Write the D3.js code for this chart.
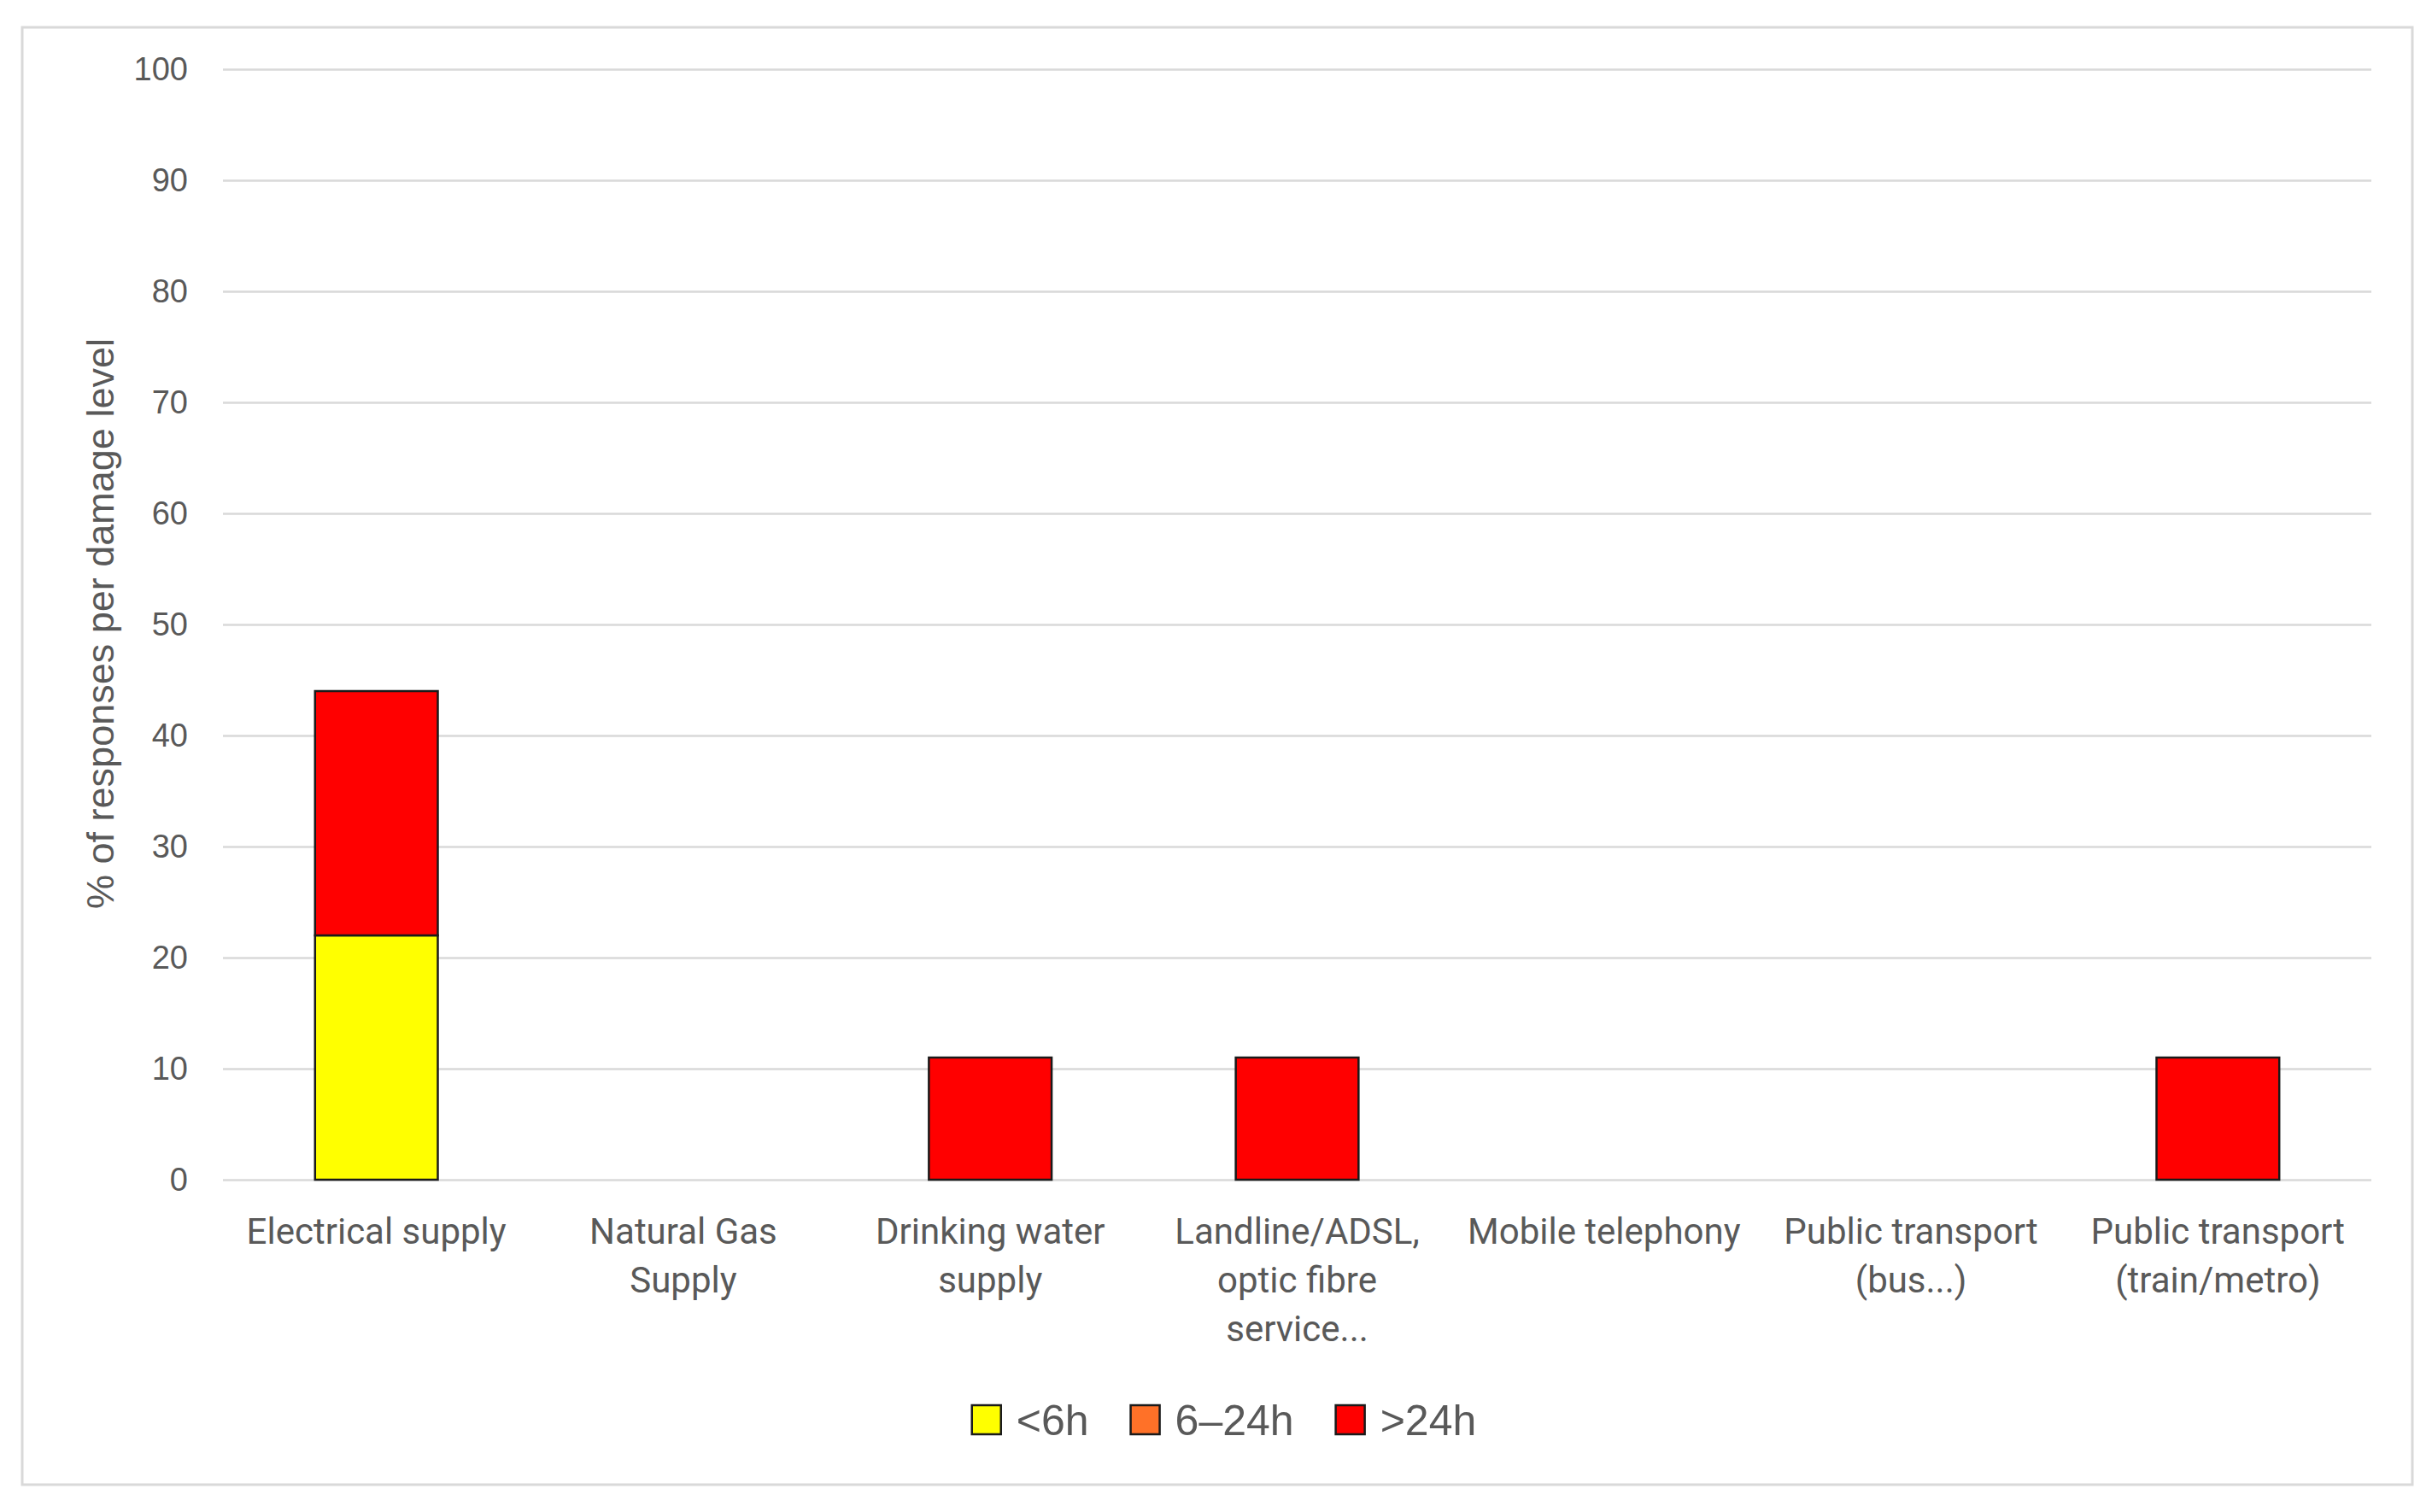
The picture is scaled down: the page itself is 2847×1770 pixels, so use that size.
<!DOCTYPE html>
<html lang="en">
<head>
<meta charset="utf-8">
<title>Service interruption by duration</title>
<script src="https://cdnjs.cloudflare.com/ajax/libs/d3/7.8.5/d3.min.js"></script>
<style>
  body { margin: 0; background: #fff; }
  svg { display: block; }
</style>
</head>
<body>
<div id="chart"></div>
<script>
// chart values
var categories = [
    "Electrical supply",
    "Natural Gas\nSupply",
    "Drinking water\nsupply",
    "Landline/ADSL,\noptic fibre\nservice...",
    "Mobile telephony",
    "Public transport\n(bus...)",
    "Public transport\n(train/metro)"
];
var seriesNames = ["<6h", "6\u201324h", ">24h"];
var seriesColors = ["#ffff00", "#ff7128", "#ff0000"];
var under6h = [22, 0, 0, 0, 0, 0, 0];
var from6to24h = [0, 0, 0, 0, 0, 0, 0];
var over24h = [22, 0, 11, 11, 0, 0, 11];
var yTicks = [0, 10, 20, 30, 40, 50, 60, 70, 80, 90, 100];

var width = 2847, height = 1770;
var margin = {left: 261, right: 71, top: 81, bottom: 389};
var textColor = "#595959";

var rows = categories.map(function(c, i) {
    return {cat: c, "<6h": under6h[i], "6\u201324h": from6to24h[i], ">24h": over24h[i]};
});
var stacked = d3.stack().keys(seriesNames)(rows);

var svg = d3.select("#chart").append("svg")
    .attr("width", width)
    .attr("height", height);

// outer chart border
svg.append("rect")
    .attr("x", 26).attr("y", 32)
    .attr("width", 2798).attr("height", 1706)
    .attr("fill", "#fff")
    .attr("stroke", "#d9d9d9")
    .attr("stroke-width", 3);

var x = d3.scaleBand()
    .domain(categories)
    .range([margin.left, width - margin.right])
    .paddingInner(0.6)
    .paddingOuter(0.3);

var y = d3.scaleLinear()
    .domain([0, 100])
    .range([height - margin.bottom, margin.top]);

// y axis with gridlines
var yAxis = svg.append("g")
    .attr("transform", "translate(" + margin.left + ",0)")
    .call(d3.axisLeft(y)
        .tickValues(yTicks)
        .tickSize(-(width - margin.left - margin.right))
        .tickPadding(41));
yAxis.select(".domain").remove();
yAxis.selectAll(".tick line")
    .attr("stroke", "#d9d9d9")
    .attr("stroke-width", 2.5);
yAxis.selectAll(".tick text")
    .attr("fill", textColor)
    .style("font-family", "'Liberation Sans', Arial, sans-serif")
    .style("font-size", "38px");

// y axis title
svg.append("text")
    .attr("transform", "translate(117," + ((y(0) + y(100)) / 2 - 1) + ") rotate(-90)")
    .attr("text-anchor", "middle")
    .attr("dy", "0.35em")
    .attr("fill", textColor)
    .style("font-family", "'Liberation Sans', Arial, sans-serif")
    .style("font-size", "45px")
    .text("% of responses per damage level");

// x axis labels
var xAxis = svg.append("g")
    .attr("transform", "translate(0," + y(0) + ")")
    .call(d3.axisBottom(x).tickSize(0).tickFormat(""));
xAxis.select(".domain").remove();
xAxis.selectAll(".tick").each(function(d) {
    var t = d3.select(this).append("text")
        .attr("text-anchor", "middle")
        .attr("fill", textColor)
        .style("font-family", "Roboto, 'Noto Sans', sans-serif")
        .style("font-size", "42px");
    d.split("\n").forEach(function(line, i) {
        t.append("tspan")
            .attr("x", 0)
            .attr("y", 75 + i * 57)
            .text(line);
    });
});

// stacked bars
svg.append("g").selectAll("g")
    .data(stacked)
    .enter().append("g")
    .attr("fill", function(d, i) { return seriesColors[i]; })
    .selectAll("rect")
    .data(function(d) { return d.filter(function(p) { return p[1] - p[0] > 0; }); })
    .enter().append("rect")
    .attr("x", function(d) { return x(d.data.cat); })
    .attr("y", function(d) { return y(d[1]); })
    .attr("width", x.bandwidth())
    .attr("height", function(d) { return y(d[0]) - y(d[1]); })
    .attr("stroke", "#1a1a1a")
    .attr("stroke-width", 2.5);

// legend
var legend = svg.append("g");
var pos = 0;
seriesNames.forEach(function(name, i) {
    var item = legend.append("g").attr("transform", "translate(" + pos + ",0)");
    item.append("rect")
        .attr("x", 0).attr("y", -17)
        .attr("width", 34).attr("height", 34)
        .attr("fill", seriesColors[i])
        .attr("stroke", "#1a1a1a")
        .attr("stroke-width", 2.5);
    var label = item.append("text")
        .attr("x", 52)
        .attr("dy", "0.36em")
        .attr("fill", textColor)
        .style("font-family", "'Liberation Sans', Arial, sans-serif")
        .style("font-size", "50px")
        .text(name);
    pos += 52 + label.node().getComputedTextLength() + 49;
});
var legendWidth = pos - 49;
legend.attr("transform", "translate(" + (1433 - legendWidth / 2) + ",1662)");
</script>
</body>
</html>
